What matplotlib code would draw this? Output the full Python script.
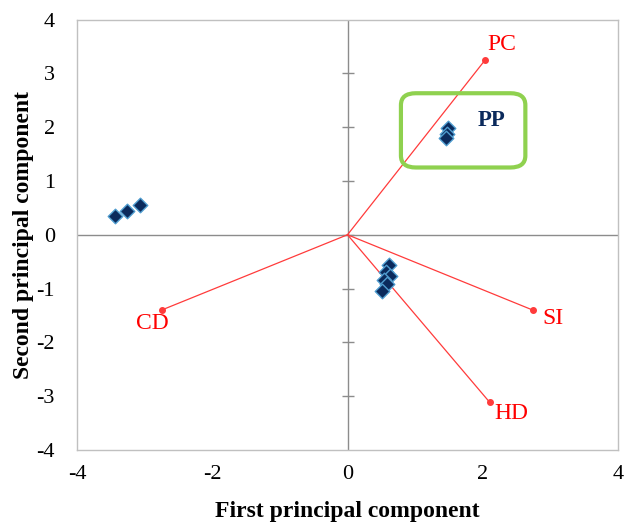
import matplotlib.pyplot as plt
from matplotlib.patches import FancyBboxPatch

# loadings (variable vectors)
var_names = ["PC", "SI", "HD", "CD"]
var_x = [2.03, 2.74, 2.10, -2.75]
var_y = [3.24, -1.40, -3.11, -1.40]

# sample scores
score_x = [-3.44, -3.26, -3.07, 1.48, 1.47, 1.46, 0.62, 0.57, 0.63, 0.54, 0.59, 0.51]
score_y = [0.35, 0.44, 0.56, 1.98, 1.88, 1.80, -0.57, -0.70, -0.76, -0.85, -0.91, -1.04]

xticks = [-4, -2, 0, 2, 4]
yticks = [-4, -3, -2, -1, 0, 1, 2, 3, 4]

plt.rcParams["font.family"] = "Liberation Serif"
plt.rcParams["axes.unicode_minus"] = False

fig = plt.figure(figsize=(6.24, 5.26), dpi=100)
ax = fig.add_axes([0.1234, 0.1445, 0.867, 0.8184])
ax.set_xlim(-4, 4)
ax.set_ylim(-4, 4)

for s in ax.spines.values():
    s.set_color("#c0c0c0")
    s.set_linewidth(1.0)

# axes through the origin, tick marks only on the vertical one
ax.axhline(0, color="#8c8c8c", lw=1, zorder=1)
ax.axvline(0, color="#8c8c8c", lw=1, zorder=1)
ax.plot([0] * len(yticks[1:-1]), yticks[1:-1], ls="none", marker="_", ms=9,
        mew=1, color="#8c8c8c", zorder=1)

offsets = {"PC": (0.25, 0.3), "SI": (0.3, -0.15), "HD": (0.32, -0.22), "CD": (-0.14, -0.24)}
for name, x, y in zip(var_names, var_x, var_y):
    ax.plot([0, x], [0, y], color="#ff3b3b", lw=0.9, zorder=2)
    ax.plot(x, y, "o", color="#ff3b3b", ms=4, zorder=3)
    dx, dy = offsets[name]
    ax.text(x + dx, y + dy, name, color="red", fontsize=17, ha="center", va="center")

ax.scatter(score_x, score_y, marker="D", s=55, facecolor="#0b2a5c",
           edgecolor="#4f9ccf", linewidth=1, zorder=4)

box = FancyBboxPatch((0.79, 1.25), 1.84, 1.38, boxstyle="round,pad=0,rounding_size=0.22",
                     fill=False, edgecolor="#8fd14f", lw=3, zorder=5)
ax.add_patch(box)
ax.text(2.13, 2.13, "PP", color="#0b2a5c", fontsize=16.5, fontweight="bold",
        ha="center", va="center")

ax.set_xticks(xticks)
ax.set_yticks(yticks)
ax.tick_params(length=0, labelsize=16)
ax.tick_params(axis="y", pad=16)
ax.tick_params(axis="x", pad=11)
ax.set_xlabel("First principal component", fontsize=17, fontweight="bold", labelpad=12)
ax.set_ylabel("Second principal component", fontsize=17, fontweight="bold", labelpad=2)

fig.savefig("out.png", dpi=100)
